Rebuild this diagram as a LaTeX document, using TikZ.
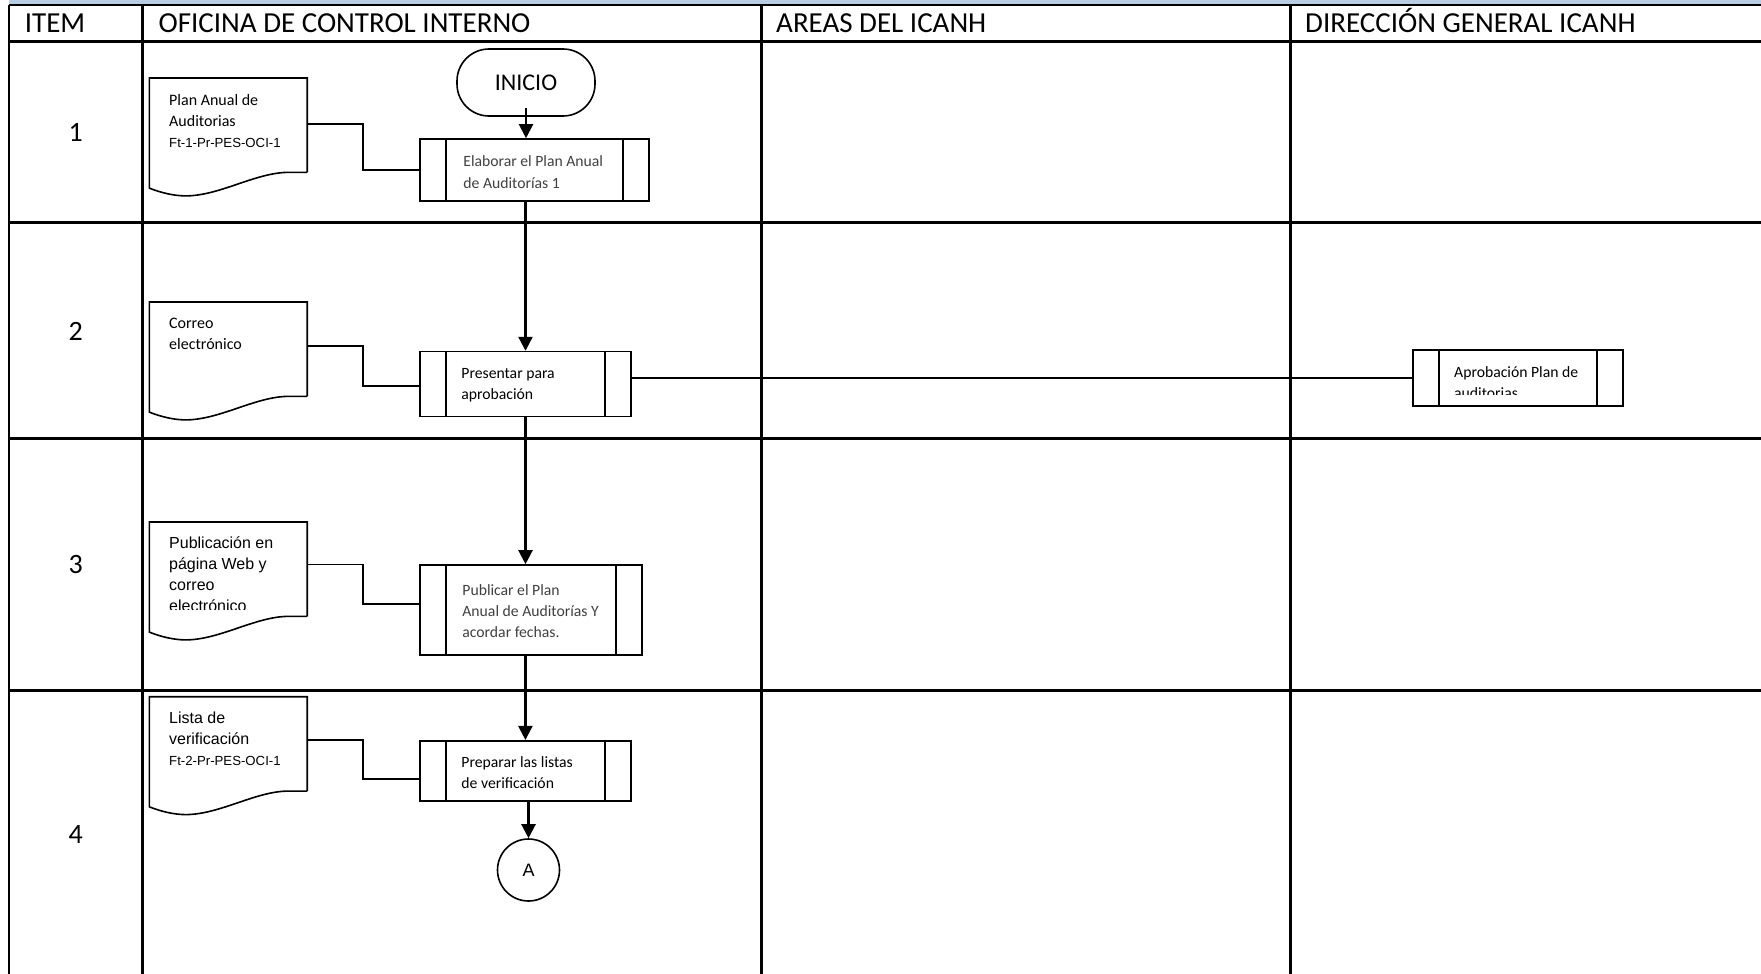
\documentclass[tikz,border=0pt]{standalone}
\usepackage{fontspec}
\setmainfont{Carlito}
\newfontfamily\arialf{Liberation Sans}
\usetikzlibrary{arrows.meta}
\definecolor{bandblue}{RGB}{184,204,228}
\definecolor{txtgray}{RGB}{64,64,64}
\begin{document}
\begin{tikzpicture}[x=1pt,y=-1pt,
  tbl/.style={line width=2.6pt},
  shp/.style={draw,line width=1.6pt},
  pbox/.style={shp,rectangle,inner sep=0pt,
    path picture={
      \draw[line width=1.6pt] ([xshift=26pt]path picture bounding box.north west) -- ([xshift=26pt]path picture bounding box.south west);
      \draw[line width=1.6pt] ([xshift=-26pt]path picture bounding box.north east) -- ([xshift=-26pt]path picture bounding box.south east);}},
  arr/.style={line width=2.2pt,-{Triangle[length=14pt,width=14pt]}},
  conn/.style={line width=1.6pt},
  hdr/.style={anchor=base west,inner sep=0pt,font=\fontsize{29}{34}\selectfont},
  num/.style={inner sep=0pt,font=\fontsize{28}{34}\selectfont},
  btxt/.style={anchor=west,inner sep=0pt,align=left,font=\fontsize{15.7}{21.3}\selectfont},
  dtext/.style={anchor=north west,inner sep=0pt,align=left},
  docn/.style={anchor=north west,inner sep=0pt,minimum width=157.5pt,minimum height=94pt},
  docline/.style={shp},
]
\useasboundingbox (0,0) rectangle (1761,974);
\fill[white] (0,0) rectangle (1761,974);
% top band and table
\fill[bandblue] (9,0) rectangle (1761,4);
\draw[tbl] (9,5) -- (1761,5);
\draw[tbl] (9,41.6) -- (1761,41.6);
\draw[tbl] (9,222.2) -- (1761,222.2);
\draw[tbl] (9,438.2) -- (1761,438.2);
\draw[tbl] (9,690.6) -- (1761,690.6);
\draw[tbl] (9,5) -- (9,974);
\draw[tbl] (142.6,5) -- (142.6,974);
\draw[tbl] (761.5,5) -- (761.5,974);
\draw[tbl] (1290.4,5) -- (1290.4,974);
% headers
\node[hdr] (h1) at (24.7,32.3) {ITEM};
\node[hdr] (h2) at (158.4,32.3) {OFICINA DE CONTROL INTERNO};
\node[hdr] (h3) at (776,32.3) {AREAS DEL ICANH};
\node[hdr] (h4) at (1305,32.3) {DIRECCIÓN GENERAL ICANH};
% row numbers
\node[num] (n1) at (75.8,132.5) {1};
\node[num] (n2) at (75.8,331) {2};
\node[num] (n3) at (75.8,565) {3};
\node[num] (n4) at (75.8,834.5) {4};
% start
\node[shp,rectangle,rounded corners=32pt,minimum width=138pt,minimum height=67pt,inner sep=0pt,font=\fontsize{24}{28}\selectfont] (ini) at (526,82.5) {INICIO};
% process boxes
\node[pbox,minimum width=229pt,minimum height=62pt] (b1) at (534.5,170) {};
\node[btxt,text=txtgray] (b1t) at ([xshift=44pt,yshift=-2pt]b1.west) {Elaborar el Plan Anual\\de Auditorías 1};
\node[pbox,minimum width=211pt,minimum height=65pt] (b2) at (525.5,384.1) {};
\node[btxt] (b2t) at ([xshift=42pt,yshift=-1pt]b2.west) {Presentar para\\aprobación};
\node[pbox,minimum width=222pt,minimum height=90pt] (b3) at (531,610) {};
\node[btxt,text=txtgray] (b3t) at ([xshift=43pt,yshift=-1pt]b3.west) {Publicar el Plan\\Anual de Auditorías Y\\acordar fechas.};
\node[pbox,minimum width=210.7pt,minimum height=60.3pt] (b4) at (525.4,770.9) {};
\node[btxt] (b4t) at ([xshift=42pt,yshift=-2pt]b4.west) {Preparar las listas\\de verificación};
\node[pbox,minimum width=210pt,minimum height=56pt] (ap) at (1518,378) {};
\begin{scope}
\clip (1440,352) rectangle (1596,394);
\node[dtext,font=\fontsize{15.7}{21.3}\selectfont] (apt) at (1454,366) {Aprobación Plan de\\auditorias};
\end{scope}
% connector circle
\node[shp,circle,minimum size=62pt,inner sep=0pt,font=\arialf\fontsize{18}{20}\selectfont] (A) at (528.5,870) {A};
% documents
\foreach \d/\t in {d1/78,d2/302,d3/522,d4/696.7}{
  \node[docn] (\d) at (149.3,\t) {};
  \draw[docline] (\d.south east) -- (\d.north east) -- (\d.north west) -- ([yshift=-15.7pt]\d.south west)
    .. controls ([xshift=12pt,yshift=-20.5pt]\d.south west) and ([xshift=25pt,yshift=-23.5pt]\d.south west) .. ([xshift=36.7pt,yshift=-23.5pt]\d.south west)
    .. controls ([xshift=70pt,yshift=-23.3pt]\d.south west) and ([xshift=105pt,yshift=-1pt]\d.south west) .. ([xshift=137pt]\d.south west)
    -- (\d.south east);
}
\node[dtext,font=\fontsize{16}{20.7}\selectfont] (d1t) at (169,94.5) {Plan Anual de\\Auditorias\\{\arialf\fontsize{13.2}{20.7}\selectfont Ft-1-Pr-PES-OCI-1}};
\node[dtext,font=\fontsize{16}{21.5}\selectfont] (d2t) at (169,317.5) {Correo\\electrónico};
\begin{scope}
\clip (150,523) rectangle (305,609.5);
\node[dtext,font=\arialf\fontsize{16}{20.7}\selectfont] (d3t) at (169,537) {Publicación en\\página Web y\\correo\\electrónico};
\end{scope}
\node[dtext,font=\arialf\fontsize{16}{20.7}\selectfont] (d4t) at (169,712) {Lista de\\verificación\\{\fontsize{13.2}{19.5}\selectfont Ft-2-Pr-PES-OCI-1}};
% document connectors
\draw[conn] ([yshift=-46pt]d1.north east) -| ([xshift=-56.4pt]b1.west) -- (b1.west);
\draw[conn] ([yshift=-44pt]d2.north east) -| ([xshift=-56.4pt,yshift=-2pt]b2.west) -- ([yshift=-2pt]b2.west);
\draw[conn] ([yshift=-42.3pt]d3.north east) -| ([xshift=-56.4pt,yshift=6pt]b3.west) -- ([yshift=6pt]b3.west);
\draw[conn] ([yshift=-43.3pt]d4.north east) -| ([xshift=-56.4pt,yshift=-8pt]b4.west) -- ([yshift=-8pt]b4.west);
% flow arrows
\draw[arr] ([yshift=9pt]ini.south) -- (ini.south |- b1.north);
\draw[arr] (b1.south -| b2.north) -- (b2.north);
\draw[arr] (b2.south) -- (b2.south |- b3.north);
\draw[arr] (b3.south -| b4.north) -- (b4.north);
\draw[arr] (b4.south -| A.north) -- (A.north);
\draw[conn] (b2.east |- ap.west) -- (ap.west);
\end{tikzpicture}
\end{document}
